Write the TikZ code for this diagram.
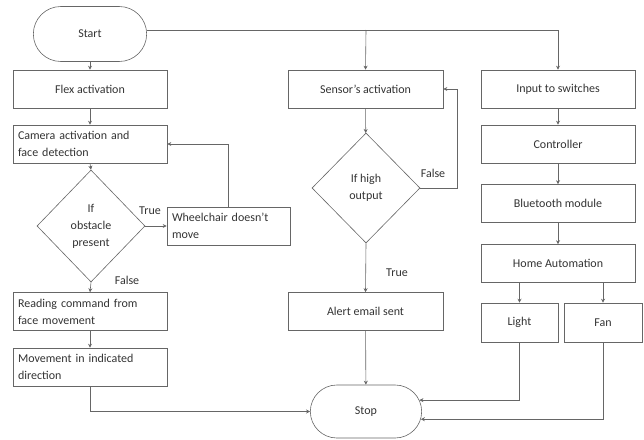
\documentclass[tikz,border=0pt]{standalone}
\usepackage{fontspec}
\setmainfont{Carlito}
\usetikzlibrary{shapes.geometric,shapes.misc,arrows.meta}

\begin{document}
\begin{tikzpicture}[x=1pt,y=-1pt]
\tikzstyle{every node}=[font=\fontsize{12}{17}\selectfont, text=black!80]
\tikzstyle{box}=[draw=black!60, line width=0.6pt, rectangle, minimum width=154pt, minimum height=38pt, inner sep=3pt, align=center]
\tikzstyle{lbox}=[box, inner xsep=5pt, text width=144pt, align=left]
\tikzstyle{term}=[draw=black!60, line width=0.6pt, rounded rectangle, minimum width=120pt, minimum height=55pt]
\tikzstyle{cond}=[draw=black!60, line width=0.6pt, diamond, minimum width=108pt, minimum height=112pt, inner sep=0pt, align=center]
\tikzstyle{arr}=[-{Stealth[length=4pt,width=4pt]}, draw=black!60, line width=0.6pt]
\useasboundingbox (0,0) rectangle (644,439);
%
\node[term] at (90,34) (Start) {Start};
\node[box] at (90,89) (Flex) {Flex activation};
\node[lbox] at (90,144) (Camera) {Camera activation and\\face detection};
\node[cond] at (91,226) (Obst) {If\\obstacle\\present};
\node[lbox, minimum width=123pt, text width=113pt] at (228.5,226) (Wheel) {Wheelchair doesn't\\move};
\node[lbox] at (90,311.5) (Read) {Reading command from\\face movement};
\node[lbox] at (90,367) (Move) {Movement in indicated\\direction};
%
\node[box, minimum width=155pt] at (365.5,89) (Sensor) {Sensor's activation};
\node[cond, minimum height=110pt] at (366,188) (High) {If high\\output};
\node[box, minimum width=155pt] at (365.5,311.5) (Alert) {Alert email sent};
\node[term, minimum width=118pt, minimum height=53pt] at (366,411.5) (Stop) {Stop};
%
\node[box] at (558,89) (Input) {Input to switches};
\node[box] at (558,144) (Ctrl) {Controller};
\node[box] at (558,203.5) (BT) {Bluetooth module};
\node[box] at (558,263.5) (Home) {Home Automation};
\node[box, minimum width=77pt, minimum height=39pt] at (519.5,322.5) (Light) {Light};
\node[box, minimum width=78pt, minimum height=39pt] at (603,322.5) (Fan) {Fan};
%
\node at (150,211) (T1) {True};
\node at (127,280) (F1) {False};
\node at (433,173) (F2) {False};
\node at (397,273) (T2) {True};
%
\coordinate (j1) at (366,30);
\coordinate (f2) at (457,188);
\draw[arr] (Start.south) -- (Flex.north);
\draw[arr] ([yshift=4pt]Start.east) -| (Input.north);
\draw[arr] (j1) -- (Sensor.north);
\draw[arr] (Flex) -- (Camera);
\draw[arr] (Camera.south) -- (Obst.north);
\draw[arr] (Obst.east) -- (Wheel.west);
\draw[arr] (Wheel.north) |- (Camera.east);
\draw[arr] (Obst.south) -- (Read.north);
\draw[arr] (Read) -- (Move);
\draw[arr] (Move.south) |- (Stop.west);
\draw[arr] (Sensor) -- (High);
\draw[arr] (High.east) -- (f2) |- (Sensor.east);
\draw[arr] (High.south) -- (Alert.north);
\draw[arr] (Alert) -- (Stop);
\draw[arr] (Input) -- (Ctrl);
\draw[arr] (Ctrl) -- (BT);
\draw[arr] (BT) -- (Home);
\draw[arr] (Light.north |- Home.south) -- (Light.north);
\draw[arr] (Home.south -| 603,0) -- (Fan.north);
\draw[arr] (Light.south) |- (Stop.12);
\draw[arr] (Fan.south) |- (Stop.-8);
\end{tikzpicture}
\end{document}
